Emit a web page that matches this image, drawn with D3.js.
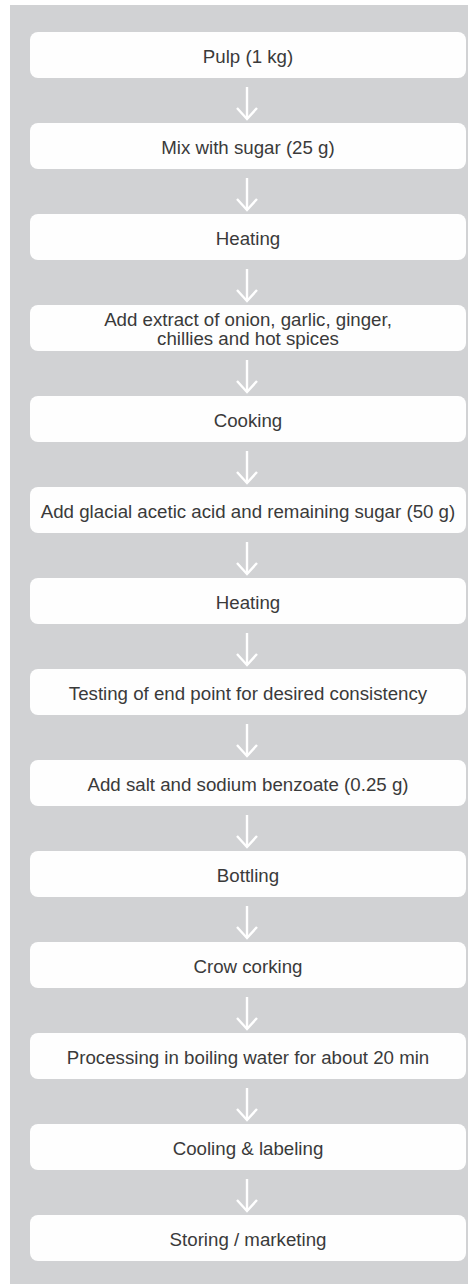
<!DOCTYPE html>
<html>
<head>
<meta charset="utf-8">
<script src="https://cdn.jsdelivr.net/npm/d3@7"></script>
<style>
  html, body { margin: 0; padding: 0; background: #ffffff; }
  svg { display: block; }
</style>
</head>
<body>
<div id="chart"></div>
<script>
// ---- data ----
const steps = [
  ["Pulp (1 kg)"],
  ["Mix with sugar (25 g)"],
  ["Heating"],
  ["Add extract of onion, garlic, ginger,", "chillies and hot spices"],
  ["Cooking"],
  ["Add glacial acetic acid and remaining sugar (50 g)"],
  ["Heating"],
  ["Testing of end point for desired consistency"],
  ["Add salt and sodium benzoate (0.25 g)"],
  ["Bottling"],
  ["Crow corking"],
  ["Processing in boiling water for about 20 min"],
  ["Cooling & labeling"],
  ["Storing / marketing"]
];
const stepIndex = steps.map((d, i) => i);

// ---- layout ----
const W = 468, H = 1284;
const boxH = 46, boxX0 = 30, boxX1 = 466, radius = 8;
const fontSize = 18.7;

const svg = d3.select("#chart").append("svg")
  .attr("width", W).attr("height", H);

// gray panel
svg.append("rect")
  .attr("x", 10).attr("y", 5)
  .attr("width", W - 10).attr("height", H - 5)
  .attr("fill", "#d1d2d4");

const y = d3.scaleLinear()
  .domain([0, steps.length - 1])
  .range([32, 1215]);

const cx = (boxX0 + boxX1) / 2;

// arrows
const arrows = svg.append("g").attr("class", "arrows");
stepIndex.slice(0, -1).forEach(i => {
  const y0 = y(i) + boxH + 9;
  const y1 = y(i + 1) - 4;
  const ax = cx - 1;
  arrows.append("line")
    .attr("x1", ax).attr("x2", ax)
    .attr("y1", y0).attr("y2", y1)
    .attr("stroke", "#ffffff").attr("stroke-width", 2.4);
  arrows.append("path")
    .attr("d", `M${ax - 10},${y1 - 11} L${ax},${y1} L${ax + 10},${y1 - 11}`)
    .attr("fill", "none")
    .attr("stroke", "#ffffff").attr("stroke-width", 2.4)
    .attr("stroke-linejoin", "miter");
});

// boxes
const nodes = svg.append("g").selectAll("g.node")
  .data(steps)
  .join("g")
  .attr("class", "node")
  .attr("transform", (d, i) => `translate(0,${y(i)})`);

nodes.append("rect")
  .attr("x", boxX0).attr("y", 0)
  .attr("width", boxX1 - boxX0).attr("height", boxH)
  .attr("rx", radius).attr("ry", radius)
  .attr("fill", "#fefefe");

nodes.each(function(lines) {
  const g = d3.select(this);
  const lh = 19;
  const n = lines.length;
  lines.forEach((t, k) => {
    const cy = boxH / 2 + (k - (n - 1) / 2) * lh;
    g.append("text")
      .attr("x", cx)
      .attr("y", cy + fontSize * 0.36 + 1)
      .attr("text-anchor", "middle")
      .attr("font-family", "'Liberation Sans', Arial, Helvetica, sans-serif")
      .attr("font-size", fontSize)
      .attr("fill", "#3a3a3a")
      .text(t);
  });
});
</script>
</body>
</html>
